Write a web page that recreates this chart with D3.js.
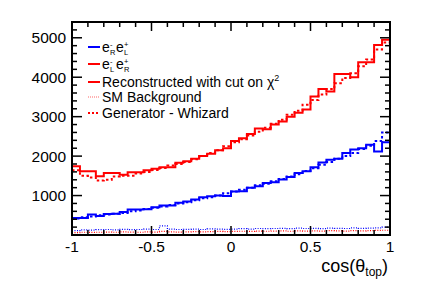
<!DOCTYPE html>
<html>
<head>
<meta charset="utf-8">
<script src="https://cdn.jsdelivr.net/npm/d3@7"></script>
<style>
  body { margin: 0; background: #fff; }
  svg { font-family: "Liberation Sans", Arial, sans-serif; }
</style>
</head>
<body>
<svg id="chart" width="423" height="287"></svg>
<script>
// bin edges: 40 bins from -1 to 1
var binEdges = d3.range(41).map(i => -1 + i * 0.05);

// e_L e_R (red), reconstructed with chi2 cut
var redReco = [1740, 1615, 1615, 1490, 1575, 1575, 1530, 1590, 1590, 1640,
               1680, 1720, 1720, 1830, 1870, 1930, 2000, 2060, 2150, 2200,
               2380, 2450, 2560, 2700, 2680, 2800, 2880, 3000, 3100, 3180,
               3510, 3700, 3640, 4080, 4080, 4000, 4380, 4380, 4820, 4950];
// e_L e_R generator (Whizard)
var redGen = [1640, 1500, 1460, 1380, 1400, 1480, 1500, 1500, 1560, 1600,
              1650, 1700, 1760, 1800, 1850, 1920, 2000, 2080, 2150, 2250,
              2350, 2430, 2520, 2620, 2720, 2820, 2920, 3050, 3150, 3300,
              3420, 3560, 3700, 3850, 3980, 4100, 4280, 4450, 4700, 4880];
// e_R e_L (blue), reconstructed with chi2 cut
var blueReco = [430, 430, 520, 480, 535, 540, 580, 645, 645, 650,
                705, 745, 750, 815, 850, 900, 960, 985, 1000, 990,
                1100, 1110, 1195, 1235, 1320, 1340, 1405, 1470, 1575, 1615,
                1720, 1840, 1910, 1930, 2080, 2165, 2200, 2290, 2120, 2350];
// e_R e_L generator (Whizard)
var blueGen = [420, 450, 470, 500, 520, 540, 560, 600, 620, 660,
               690, 720, 760, 800, 830, 880, 930, 960, 1000, 1060,
               1100, 1150, 1200, 1260, 1300, 1360, 1420, 1480, 1540, 1620,
               1690, 1780, 1850, 1930, 2000, 2080, 2180, 2260, 2380, 2600];
// SM background
var blueBg = [110, 130, 125, 135, 140, 130, 145, 135, 140, 150,
              140, 230, 150, 140, 145, 150, 140, 155, 150, 145,
              150, 160, 150, 165, 160, 165, 170, 160, 175, 165,
              170, 160, 175, 170, 165, 180, 170, 175, 180, 200];
var redBg = [60, 70, 65, 70, 75, 70, 80, 75, 70, 80,
             75, 90, 80, 75, 80, 85, 80, 85, 90, 85,
             90, 95, 90, 100, 95, 100, 105, 95, 105, 100,
             105, 100, 110, 105, 100, 110, 105, 110, 115, 120];

var yTicks = [1000, 2000, 3000, 4000, 5000];
var xTicks = [-1, -0.5, 0, 0.5, 1];

var svg = d3.select("#chart");
var pLeft = 72, pRight = 390, pTop = 22, pBottom = 235;

var x = d3.scaleLinear().domain([-1, 1]).range([pLeft, pRight]);
var y = d3.scaleLinear().domain([0, 5400]).range([pBottom, pTop]);

svg.append("clipPath").attr("id", "clip")
  .append("rect").attr("x", pLeft).attr("y", pTop)
  .attr("width", pRight - pLeft).attr("height", pBottom - pTop);

// step line from bin contents
var stepLine = d3.line()
  .x(d => x(d[0]))
  .y(d => y(d[1]))
  .curve(d3.curveStepAfter);

function steps(vals) {
  var pts = vals.map((v, i) => [binEdges[i], v]);
  pts.push([binEdges[40], vals[vals.length - 1]]);
  return pts;
}

var series = [
  { vals: redBg, color: "#ff0000", width: 1.2, dash: "1,1.5" },
  { vals: blueBg, color: "#0000ff", width: 1.2, dash: "1,1.5" },
  { vals: redGen, color: "#ff0000", width: 2, dash: "2.5,2.5" },
  { vals: blueGen, color: "#0000ff", width: 2, dash: "2.5,2.5" },
  { vals: redReco, color: "#ff0000", width: 2, dash: null },
  { vals: blueReco, color: "#0000ff", width: 2, dash: null }
];

var g = svg.append("g").attr("clip-path", "url(#clip)");
series.forEach(s => {
  g.append("path")
    .attr("d", stepLine(steps(s.vals)))
    .attr("fill", "none")
    .attr("stroke", s.color)
    .attr("stroke-width", s.width)
    .attr("stroke-dasharray", s.dash);
});

// axes with inward ticks
var yMinor = d3.range(200, 5400, 200);
var xMinor = d3.range(0, 21).map(i => -1 + i * 0.1);

var tickG = svg.append("g").attr("stroke", "#000").attr("stroke-width", 1.5);
yMinor.forEach(v => {
  var big = v % 1000 === 0;
  var len = big ? 10 : 5;
  tickG.append("line").attr("x1", pLeft).attr("x2", pLeft + len).attr("y1", y(v)).attr("y2", y(v));
  tickG.append("line").attr("x1", pRight).attr("x2", pRight - len).attr("y1", y(v)).attr("y2", y(v));
});
xMinor.forEach((v, i) => {
  var len = i % 5 === 0 ? 9 : 5;
  tickG.append("line").attr("x1", x(v)).attr("x2", x(v)).attr("y1", pBottom).attr("y2", pBottom - len);
  tickG.append("line").attr("x1", x(v)).attr("x2", x(v)).attr("y1", pTop).attr("y2", pTop + len);
});

svg.append("rect")
  .attr("x", pLeft).attr("y", pTop)
  .attr("width", pRight - pLeft).attr("height", pBottom - pTop)
  .attr("fill", "none").attr("stroke", "#000").attr("stroke-width", 2);

svg.selectAll(".ylab").data(yTicks).enter().append("text")
  .attr("x", pLeft - 6).attr("y", d => y(d) + 5.5)
  .attr("text-anchor", "end").attr("font-size", 15.5)
  .text(d => d);

svg.selectAll(".xlab").data(xTicks).enter().append("text")
  .attr("x", d => x(d)).attr("y", pBottom + 17)
  .attr("text-anchor", "middle").attr("font-size", 15.5)
  .text(d => d);

// axis title
var title = svg.append("text").attr("x", pRight - 2).attr("y", 272)
  .attr("text-anchor", "end").attr("font-size", 18);
title.append("tspan").text("cos(\u03b8");
title.append("tspan").attr("font-size", 12).attr("dy", 4).text("top");
title.append("tspan").attr("dy", -4).text(")");

// legend
var legend = [
  { color: "#0000ff", dash: null, w: 2, parts: [["-", "R"], ["+", "L"]] },
  { color: "#ff0000", dash: null, w: 2, parts: [["-", "L"], ["+", "R"]] },
  { color: "#ff0000", dash: null, w: 2, label: "Reconstructed with cut on \u03c7" },
  { color: "#ff6666", dash: "1,1", w: 1.2, label: "SM Background" },
  { color: "#ff0000", dash: "2,2", w: 2, label: "Generator - Whizard" }
];
var rowY = [47, 64, 82, 97, 113];

legend.forEach((d, i) => {
  svg.append("line")
    .attr("x1", 88).attr("x2", 100).attr("y1", rowY[i]).attr("y2", rowY[i])
    .attr("stroke", d.color).attr("stroke-width", d.w)
    .attr("stroke-dasharray", d.dash);
  var base = rowY[i] + 5;
  if (d.parts) {
    // e with stacked super/subscripts, twice
    var xx = 102;
    d.parts.forEach(p => {
      svg.append("text").attr("x", xx).attr("y", base).attr("font-size", 14).text("e");
      svg.append("text").attr("x", xx + 8).attr("y", base - 5).attr("font-size", 7.5).text(p[0]);
      svg.append("text").attr("x", xx + 8).attr("y", base + 2.5).attr("font-size", 7.5).text(p[1]);
      xx += 14;
    });
  } else {
    var t = svg.append("text").attr("x", 102).attr("y", base).attr("font-size", 14);
    t.append("tspan").text(d.label);
    if (i === 2) t.append("tspan").attr("font-size", 9).attr("dy", -6).text("2");
  }
});
</script>
</body>
</html>
